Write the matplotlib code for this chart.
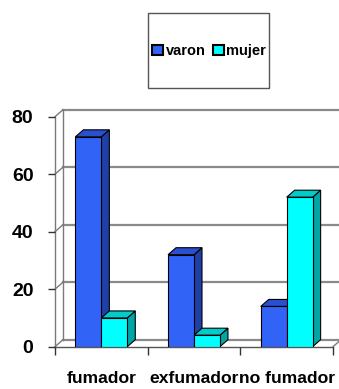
import matplotlib
matplotlib.use("Agg")
import matplotlib.pyplot as plt
from matplotlib.patches import Polygon, Rectangle, Patch
from matplotlib.transforms import blended_transform_factory

# Data
categories = ["fumador", "exfumador", "no fumador"]
series_names = ["varon", "mujer"]
varon = [73, 32, 14]
mujer = [10, 4, 52]
y_ticks = [0, 20, 40, 60, 80]

plt.rcParams["font.family"] = ["Liberation Sans", "DejaVu Sans"]

W, H = 339, 389
fig = plt.figure(figsize=(W / 100, H / 100), dpi=100)
fig.patch.set_facecolor("white")

ax_l, ax_b, ax_w, ax_h = 55, 42.3, 278, 230
ax = fig.add_axes([ax_l / W, ax_b / H, ax_w / W, ax_h / H])
ax.set_xlim(-0.5, len(categories) - 0.5)
ax.set_ylim(0, 80)
ax.patch.set_alpha(0)
for s in ax.spines.values():
    s.set_visible(False)

# pseudo-3D depth offsets (data units)
DX = 8 / (ax_w / len(categories))
DY = 7 / (ax_h / 80)

x0, x1 = -0.5, len(categories) - 0.5
ymax = y_ticks[-1]
grid_c = "#8a8a8a"
frame_c = "#7a7a7a"

# back wall
ax.add_patch(Polygon([(x0 + DX, DY), (x1 + DX, DY), (x1 + DX, ymax + DY), (x0 + DX, ymax + DY)],
                     closed=True, facecolor="white", edgecolor="none", clip_on=False, zorder=0))
# gridlines on back wall and side wall
for v in y_ticks:
    ax.plot([x0 + DX, x1 + DX + 0.2], [v + DY, v + DY], color=grid_c, lw=1.6, clip_on=False, zorder=1)
    ax.plot([x0, x0 + DX], [v, v + DY], color=frame_c, lw=1.0, clip_on=False, zorder=1)
# wall edges
ax.plot([x0 + DX, x0 + DX], [DY, ymax + DY], color=frame_c, lw=1.0, clip_on=False, zorder=1)
ax.plot([x0, x0], [0, ymax], color=frame_c, lw=1.0, clip_on=False, zorder=1)
# floor
ax.plot([x0, x1], [0, 0], color="#555555", lw=1.0, clip_on=False, zorder=1)
ax.plot([x1, x1 + DX], [0, DY], color=frame_c, lw=1.0, clip_on=False, zorder=1)

# bars
bw = 0.28
front = {"varon": "#3263F7", "mujer": "#00FFFF"}
top = {"varon": "#2A50D0", "mujer": "#00CCCC"}
side = {"varon": "#1F40A6", "mujer": "#00A5A5"}
offsets = {"varon": -bw / 2, "mujer": bw / 2}
values = {"varon": varon, "mujer": mujer}

for i in range(len(categories)):
    for name in series_names:
        v = values[name][i]
        xc = i + offsets[name]
        xl, xr = xc - bw / 2, xc + bw / 2
        ax.add_patch(Polygon([(xr, 0), (xr + DX, DY), (xr + DX, v + DY), (xr, v)],
                             closed=True, facecolor=side[name], edgecolor="black", lw=0.8, zorder=3))
        ax.add_patch(Polygon([(xl, v), (xl + DX, v + DY), (xr + DX, v + DY), (xr, v)],
                             closed=True, facecolor=top[name], edgecolor="black", lw=0.8, zorder=3))
        ax.bar([xc], [v], width=bw, color=front[name], edgecolor="black", lw=0.8, zorder=4)

# axes ticks
ax.set_yticks(y_ticks)
ax.set_yticklabels([str(t) for t in y_ticks], fontsize=14, fontweight="bold")
ax.tick_params(axis="y", length=5, width=1.0, color="#333333", pad=10.5)
ax.set_xticks([i - 0.5 for i in range(len(categories) + 1)])
ax.set_xticklabels([])
ax.tick_params(axis="x", length=6, width=1.0, color="#333333")

trans = blended_transform_factory(ax.transData, fig.transFigure)
for i, lab in enumerate(categories):
    ax.text(i, 6 / H, lab, transform=trans, ha="center", va="baseline",
            fontsize=12.6, fontweight="bold", color="black")

# legend with its framed box
fig.patches.append(Rectangle((148 / W, 1 - 88 / H), 121 / W, 75 / H, transform=fig.transFigure,
                             facecolor="white", edgecolor="#555555", lw=1.0, zorder=5))
handles = [Patch(facecolor=front[n], edgecolor="black", lw=1.5) for n in series_names]
leg = fig.legend(handles, series_names, loc="center", bbox_to_anchor=(209 / W, 1 - 51 / H),
                 ncol=2, frameon=False, prop={"weight": "bold", "size": 10.5},
                 handlelength=0.75, handleheight=0.75, handletextpad=0.2, columnspacing=0.5,
                 borderaxespad=0, borderpad=0)
leg.set_zorder(6)

fig.savefig("out.png", dpi=100)
